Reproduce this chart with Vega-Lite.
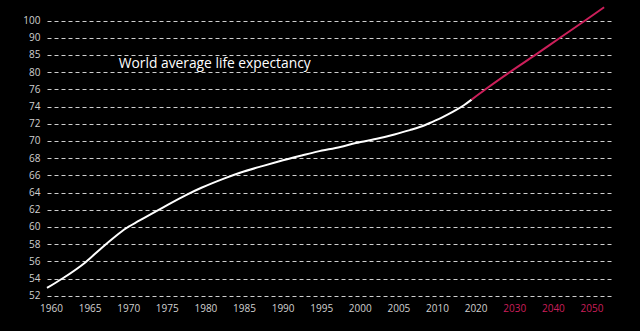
{
  "$schema": "https://vega.github.io/schema/vega-lite/v6.json",
  "width": 564,
  "height": 296,
  "autosize": {"type": "none"},
  "padding": {"left": 49, "top": 0, "right": 27, "bottom": 35},
  "background": "#000000",
  "config": {"view": {"stroke": null}, "font": "Open Sans"},
  "layer": [
    {
      "data": {
        "values": [
          {"year": 1960, "value": 52.9, "part": "observed"},
          {"year": 1962, "value": 54.0, "part": "observed"},
          {"year": 1965, "value": 55.9, "part": "observed"},
          {"year": 1967, "value": 57.5, "part": "observed"},
          {"year": 1969, "value": 59.0, "part": "observed"},
          {"year": 1970, "value": 59.7, "part": "observed"},
          {"year": 1972, "value": 60.75, "part": "observed"},
          {"year": 1975, "value": 62.25, "part": "observed"},
          {"year": 1978, "value": 63.7, "part": "observed"},
          {"year": 1980, "value": 64.55, "part": "observed"},
          {"year": 1983, "value": 65.65, "part": "observed"},
          {"year": 1985, "value": 66.3, "part": "observed"},
          {"year": 1988, "value": 67.1, "part": "observed"},
          {"year": 1990, "value": 67.6, "part": "observed"},
          {"year": 1993, "value": 68.3, "part": "observed"},
          {"year": 1995, "value": 68.75, "part": "observed"},
          {"year": 1998, "value": 69.3, "part": "observed"},
          {"year": 2000, "value": 69.75, "part": "observed"},
          {"year": 2003, "value": 70.3, "part": "observed"},
          {"year": 2005, "value": 70.75, "part": "observed"},
          {"year": 2007, "value": 71.25, "part": "observed"},
          {"year": 2009, "value": 71.85, "part": "observed"},
          {"year": 2010, "value": 72.25, "part": "observed"},
          {"year": 2012, "value": 72.65, "part": "observed"},
          {"year": 2014, "value": 73.1, "part": "observed"},
          {"year": 2016, "value": 73.6, "part": "observed"},
          {"year": 2018, "value": 74.15, "part": "observed"},
          {"year": 2020, "value": 74.8, "part": "observed"},
          {"year": 2020, "value": 74.8, "part": "projected"},
          {"year": 2023.6, "value": 76, "part": "projected"},
          {"year": 2029.9, "value": 80, "part": "projected"},
          {"year": 2036.5, "value": 85, "part": "projected"},
          {"year": 2042.9, "value": 90, "part": "projected"},
          {"year": 2049.4, "value": 100, "part": "projected"},
          {"year": 2054.3, "value": 107.7, "part": "projected"}
        ]
      },
      "mark": {"type": "line", "interpolate": "monotone", "strokeWidth": 2, "clip": false},
      "encoding": {
        "x": {
          "field": "year",
          "type": "quantitative",
          "scale": {"domain": [1960, 2010, 2056.6], "range": [-2, 384, 564], "nice": false, "zero": false},
          "axis": {
            "values": [1960, 1965, 1970, 1975, 1980, 1985, 1990, 1995, 2000, 2005, 2010, 2020, 2030, 2040, 2050],
            "tickCount": 30,
            "format": "d",
            "title": null,
            "grid": false,
            "domain": false,
            "ticks": false,
            "tickSize": 0,
            "labelOffset": 4,
            "labelPadding": 7,
            "labelFontSize": 10,
            "labelFlush": false,
            "labelOverlap": false,
            "labelBound": false,
            "labelColor": {"condition": {"test": "datum.value >= 2030", "value": "#cc1f5a"}, "value": "#d0d0d0"}
          }
        },
        "y": {
          "field": "value",
          "type": "quantitative",
          "scale": {"domain": [52, 76, 80, 85, 90, 100, 110], "range": [295.7, 89.3, 72.1, 54.9, 37.7, 20.5, 3.3], "nice": false, "zero": false},
          "axis": {
            "values": [52, 54, 56, 58, 60, 62, 64, 66, 68, 70, 72, 74, 76, 80, 85, 90, 100],
            "tickCount": 30,
            "title": null,
            "domain": false,
            "ticks": false,
            "tickSize": 0,
            "labelPadding": 9,
            "labelFontSize": 10,
            "labelColor": "#d0d0d0",
            "labelFlush": false,
            "labelOverlap": false,
            "labelBound": false,
            "grid": true,
            "gridColor": "#cfcfcf",
            "gridDash": [4, 3],
            "gridWidth": 1
          }
        },
        "color": {
          "field": "part",
          "type": "nominal",
          "scale": {"domain": ["observed", "projected"], "range": ["#ffffff", "#cc1f5a"]},
          "legend": null
        }
      }
    },
    {
      "data": {"values": [{"label": "World average life expectancy"}]},
      "mark": {"type": "text", "align": "left", "baseline": "alphabetic", "fontSize": 13.8, "color": "#ffffff", "font": "Open Sans"},
      "encoding": {
        "x": {"datum": 1969.3, "type": "quantitative"},
        "y": {"datum": 81.1, "type": "quantitative"},
        "text": {"field": "label"}
      }
    }
  ]
}
